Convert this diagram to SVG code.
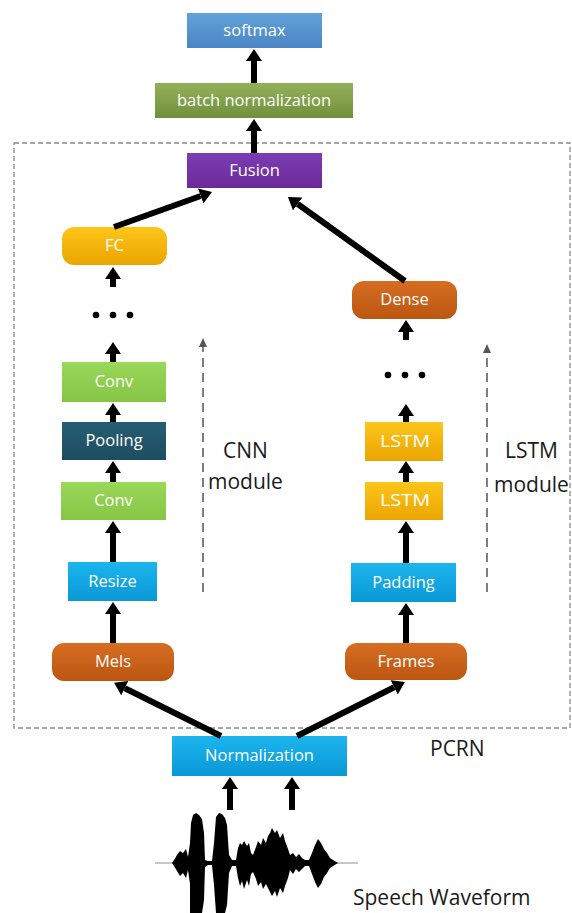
<svg xmlns="http://www.w3.org/2000/svg" width="572" height="913" viewBox="0 0 572 913">
  <defs>
    <linearGradient id="gBlue" x1="0" y1="0" x2="0" y2="1"><stop offset="0" stop-color="#62a2da"/><stop offset="1" stop-color="#4a86c4"/></linearGradient>
    <linearGradient id="gOlive" x1="0" y1="0" x2="0" y2="1"><stop offset="0" stop-color="#93b05a"/><stop offset="1" stop-color="#728f3c"/></linearGradient>
    <linearGradient id="gPurple" x1="0" y1="0" x2="0" y2="1"><stop offset="0" stop-color="#7d3db3"/><stop offset="1" stop-color="#6a2a9a"/></linearGradient>
    <linearGradient id="gGold" x1="0" y1="0" x2="0" y2="1"><stop offset="0" stop-color="#fdc51a"/><stop offset="1" stop-color="#eba500"/></linearGradient>
    <linearGradient id="gRust" x1="0" y1="0" x2="0" y2="1"><stop offset="0" stop-color="#d66d22"/><stop offset="1" stop-color="#bb5611"/></linearGradient>
    <linearGradient id="gGreen" x1="0" y1="0" x2="0" y2="1"><stop offset="0" stop-color="#9ad75a"/><stop offset="1" stop-color="#86c544"/></linearGradient>
    <linearGradient id="gTeal" x1="0" y1="0" x2="0" y2="1"><stop offset="0" stop-color="#275d73"/><stop offset="1" stop-color="#1e4d61"/></linearGradient>
    <linearGradient id="gCyan" x1="0" y1="0" x2="0" y2="1"><stop offset="0" stop-color="#1cb5ee"/><stop offset="1" stop-color="#0a98d6"/></linearGradient>
    <marker id="head" markerUnits="userSpaceOnUse" markerWidth="12" markerHeight="16" viewBox="0 0 12 16" refX="0" refY="8" orient="auto">
      <path d="M0,0 L12,8 L0,16 z" fill="#000"/>
    </marker>
    <marker id="thinHead" markerUnits="userSpaceOnUse" markerWidth="9" markerHeight="8" viewBox="0 0 9 8" refX="0" refY="4" orient="auto">
      <path d="M0,0 L9,4 L0,8 z" fill="#555"/>
    </marker>
  </defs>
  <style>
    .lbl { font-family: "Open Sans", "Noto Sans", "Liberation Sans", sans-serif; font-size: 16.5px; fill: #fff; text-anchor: middle; }
    .note { font-family: "Open Sans", "Noto Sans", "Liberation Sans", sans-serif; font-size: 21px; fill: #1a1a1a; }
    .arrow { stroke: #000; stroke-width: 6; fill: none; marker-end: url(#head); }
    .guide { stroke: #555; stroke-width: 1.5; stroke-dasharray: 9 6; fill: none; marker-end: url(#thinHead); }
  </style>

  <!-- PCRN boundary -->
  <rect x="14" y="143" width="556" height="585" fill="none" stroke="#8a8a8a" stroke-width="1.3" stroke-dasharray="5 3"/>

  <!-- top stack -->
  <g id="softmax"><rect x="187" y="13" width="135" height="35" fill="url(#gBlue)"/><text class="lbl" x="254.5" y="36">softmax</text></g>
  <g id="batchnorm"><rect x="155" y="83" width="198" height="35" fill="url(#gOlive)"/><text class="lbl" x="254" y="106">batch normalization</text></g>
  <g id="fusion"><rect x="187" y="153" width="135" height="35" fill="url(#gPurple)"/><text class="lbl" x="254.5" y="176">Fusion</text></g>

  <!-- CNN branch -->
  <g id="fc"><rect x="62" y="227" width="105" height="38" rx="12" fill="url(#gGold)"/><text class="lbl" x="114.5" y="251">FC</text></g>
  <g id="cnn-dots" fill="#000"><circle cx="96" cy="315" r="3.3"/><circle cx="113" cy="315" r="3.3"/><circle cx="130" cy="315" r="3.3"/></g>
  <g id="conv2"><rect x="62" y="362" width="104" height="40" fill="url(#gGreen)"/><text class="lbl" x="114" y="387">Conv</text></g>
  <g id="pooling"><rect x="62" y="422" width="104" height="38" fill="url(#gTeal)"/><text class="lbl" x="114" y="446">Pooling</text></g>
  <g id="conv1"><rect x="61" y="482" width="105" height="38" fill="url(#gGreen)"/><text class="lbl" x="113.5" y="506">Conv</text></g>
  <g id="resize"><rect x="68" y="562" width="89" height="39" fill="url(#gCyan)"/><text class="lbl" x="112.5" y="587">Resize</text></g>
  <g id="mels"><rect x="52" y="643" width="122" height="38" rx="12" fill="url(#gRust)"/><text class="lbl" x="113" y="667">Mels</text></g>

  <!-- LSTM branch -->
  <g id="dense"><rect x="352" y="281" width="105" height="38" rx="12" fill="url(#gRust)"/><text class="lbl" x="404.5" y="305">Dense</text></g>
  <g id="lstm-dots" fill="#000"><circle cx="388" cy="375" r="3.3"/><circle cx="405" cy="375" r="3.3"/><circle cx="422" cy="375" r="3.3"/></g>
  <g id="lstm2"><rect x="365" y="422" width="78" height="39" fill="url(#gGold)"/><text class="lbl" x="405" y="447" textLength="50" lengthAdjust="spacingAndGlyphs">LSTM</text></g>
  <g id="lstm1"><rect x="365" y="482" width="78" height="38" fill="url(#gGold)"/><text class="lbl" x="405" y="506" textLength="50" lengthAdjust="spacingAndGlyphs">LSTM</text></g>
  <g id="padding"><rect x="351" y="563" width="105" height="39" fill="url(#gCyan)"/><text class="lbl" x="403.5" y="588">Padding</text></g>
  <g id="frames"><rect x="345" y="643" width="122" height="37" rx="12" fill="url(#gRust)"/><text class="lbl" x="406" y="667">Frames</text></g>

  <!-- input -->
  <g id="normalization"><rect x="172" y="736" width="175" height="40" fill="url(#gCyan)"/><text class="lbl" x="259.5" y="761">Normalization</text></g>

  <g id="waveform">
    <line x1="155" y1="863" x2="358" y2="863" stroke="#b5b5b5" stroke-width="1.5"/>
    <path fill="#000" d="M172,863 L174,860 L177,855 L180,851 L183,853 L186,849 L188,857 L190,843 L191,823 L193,815 L196,813 L199,815 L202,819 L204,833 L205,860 L208,861 L212,861 L214,843 L216,817 L219,813 L222,814 L225,818 L227,825 L229,855 L232,860 L236,860 L238,848 L240,843 L242,845 L244,841 L247,846 L249,843 L251,853 L253,855 L256,847 L258,841 L261,845 L263,838 L266,843 L268,836 L270,833 L272,828 L275,833 L277,830 L280,838 L283,833 L285,841 L288,849 L290,855 L293,853 L296,857 L299,854 L302,858 L305,860 L309,860 L312,853 L315,845 L318,839 L321,843 L324,849 L327,853 L330,858 L333,860 L338,863 L333,866 L330,868 L327,873 L324,877 L321,884 L318,888 L315,882 L312,874 L309,866 L305,866 L302,869 L299,872 L296,869 L293,874 L290,870 L288,878 L285,886 L283,893 L280,888 L277,897 L275,891 L272,896 L270,892 L268,888 L266,884 L263,889 L261,882 L258,886 L256,879 L253,872 L251,874 L249,886 L247,880 L244,889 L242,881 L240,886 L238,878 L236,866 L232,866 L229,873 L227,905 L225,913 L216,913 L214,885 L212,865 L208,865 L205,867 L204,900 L202,913 L190,913 L190,884 L188,870 L186,878 L183,873 L180,876 L177,871 L174,866 Z"/>
  </g>

  <!-- module guides -->
  <g id="guides">
    <line class="guide" x1="203" y1="592" x2="203" y2="347"/>
    <line class="guide" x1="487" y1="592" x2="487" y2="353"/>
  </g>

  <!-- labels -->
  <g id="labels">
    <text class="note" x="223" y="458">CNN</text>
    <text class="note" x="208" y="489">module</text>
    <text class="note" x="505" y="458">LSTM</text>
    <text class="note" x="494" y="492">module</text>
    <text class="note" x="430" y="756">PCRN</text>
    <text class="note" x="353" y="905">Speech Waveform</text>
  </g>

  <!-- connectors -->
  <g id="connectors">
    <line class="arrow" x1="254" y1="83" x2="254" y2="61"/>
    <line class="arrow" x1="254" y1="153" x2="254" y2="131"/>
    <line class="arrow" x1="114" y1="227" x2="200.7" y2="196"/>
    <line class="arrow" x1="405" y1="281" x2="297.7" y2="204"/>
    <line class="arrow" x1="113" y1="287" x2="113" y2="279"/>
    <line class="arrow" x1="113" y1="362" x2="113" y2="354"/>
    <line class="arrow" x1="113" y1="422" x2="113" y2="415"/>
    <line class="arrow" x1="113" y1="482" x2="113" y2="473"/>
    <line class="arrow" x1="113" y1="562" x2="113" y2="533"/>
    <line class="arrow" x1="113" y1="643" x2="113" y2="614"/>
    <line class="arrow" x1="221" y1="736" x2="124.8" y2="688.2"/>
    <line class="arrow" x1="297" y1="736" x2="394.2" y2="687.3"/>
    <line class="arrow" x1="406" y1="643" x2="406" y2="615"/>
    <line class="arrow" x1="406" y1="563" x2="406" y2="533"/>
    <line class="arrow" x1="406" y1="482" x2="406" y2="473"/>
    <line class="arrow" x1="406" y1="422" x2="406" y2="416"/>
    <line class="arrow" x1="406" y1="340" x2="406" y2="332"/>
    <line class="arrow" x1="230" y1="810" x2="230" y2="789"/>
    <line class="arrow" x1="292" y1="810" x2="292" y2="789"/>
  </g>
</svg>
